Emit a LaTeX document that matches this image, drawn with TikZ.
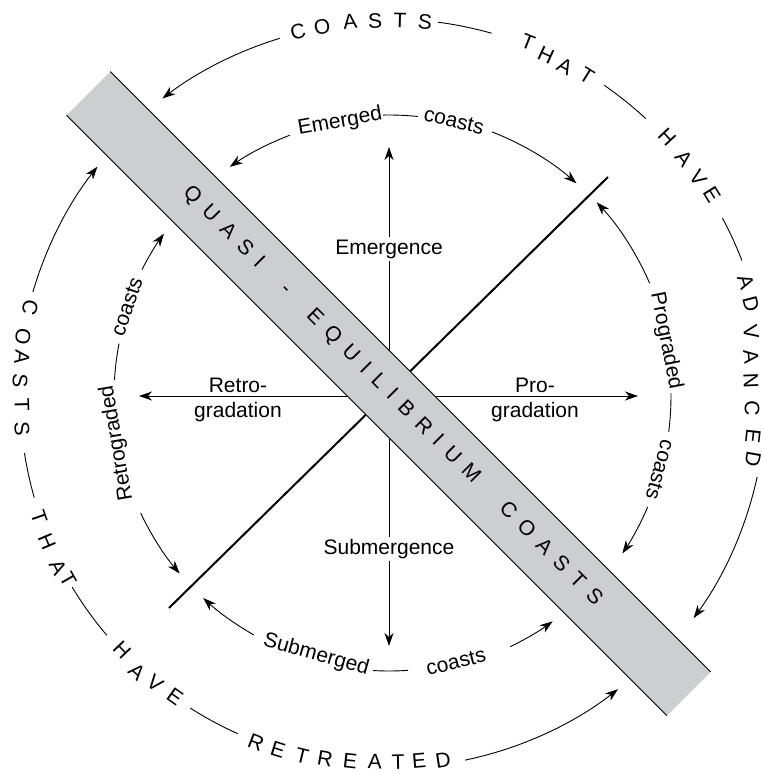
\documentclass[tikz,border=0pt]{standalone}
\usepackage{fontspec}
\setmainfont{Liberation Sans}
\usetikzlibrary{arrows.meta}
\definecolor{bandgray}{RGB}{205,206,208}
\newcommand\bandsp{\hspace{10pt}}
\begin{document}
\begin{tikzpicture}[x=1pt,y=1pt,font=\fontsize{21}{25}\selectfont,
  arr/.style={-{Stealth[length=13pt,width=9pt,inset=4pt]},line width=0.9pt},
  thinl/.style={line width=0.9pt},
  lab/.style={inner sep=2pt},
  txt/.style={inner sep=0pt}]
\useasboundingbox (-389,-378) rectangle (374,396);

% --- cross ---
\coordinate (O) at (0,0);
\coordinate (Ntip) at (0,249);
\coordinate (Stip) at (0,-250);
\coordinate (Wtip) at (-250,0);
\coordinate (Etip) at (249,0);
\coordinate (DL) at (-220,-212);
\coordinate (DU) at (219,219);
\node[lab,anchor=base] (emg) at (0,142) {Emergence};
\node[lab,anchor=base] (smg) at (0,-158) {Submergence};
\draw[arr] (emg.north) -- (Ntip);
\draw[thinl] (emg.south) -- (smg.north);
\draw[arr] (smg.south) -- (Stip);
\draw[arr] (O) -- (Wtip);
\draw[arr] (O) -- (Etip);
\draw[line width=2pt] (DL) -- (DU);
\node[txt,anchor=base] (retroA) at (-151,4) {Retro-};
\node[txt,anchor=base] (retroB) at (-151,-21) {gradation};
\node[txt,anchor=base] (proA) at (146,4) {Pro-};
\node[txt,anchor=base] (proB) at (146,-21) {gradation};

% --- band ---
\begin{scope}[shift={(0,2)},rotate=-45]
  \fill[bandgray] (-425,-31) rectangle (424,31);
  \draw[thinl] (-425,31) -- (424,31);
  \draw[thinl] (-425,-31) -- (424,-31);
  \node[txt,anchor=base west,rotate=-45] (bandtext) at (-288,-4.5)
   {Q\bandsp U\bandsp A\bandsp S\bandsp I\hspace{32pt}-\hspace{30pt}E\bandsp Q\bandsp U\bandsp I\bandsp L\bandsp I\bandsp B\bandsp R\bandsp I\bandsp U\bandsp M\hspace{36pt}C\bandsp O\bandsp A\bandsp S\bandsp T\bandsp S};
\end{scope}

% --- inner ring ---
\node[txt,rotate=10.1] (emA) at (-49,274) {Emerged};
\node[txt,rotate=-13.3] (emB) at (65,275) {coasts};
\draw[thinl] (91.2:281pt) arc[start angle=91.2,end angle=84.1,radius=281pt];
\draw[arr] (110.8:279pt) arc[start angle=110.8,end angle=124.8,radius=279pt];
\draw[arr] (68.7:283.5pt) arc[start angle=68.7,end angle=48.6,radius=283.5pt];

\node[txt,rotate=-78.8] (prA) at (277,55) {Prograded};
\node[txt,rotate=-105.3] (prB) at (271,-74) {coasts};
\draw[thinl] (0.6:282pt) arc[start angle=0.6,end angle=-7.3,radius=282pt];
\draw[arr] (-23.2:281.5pt) arc[start angle=-23.2,end angle=-34,radius=281.5pt];
\draw[arr] (23.4:284pt) arc[start angle=23.4,end angle=43,radius=284pt];

\node[txt,rotate=99.8] (reA) at (-272,-47) {Retrograded};
\node[txt,rotate=71.2] (reB) at (-262,89) {coasts};
\draw[thinl] (169:275pt) arc[start angle=169,end angle=176.7,radius=275pt];
\draw[arr] (152.9:277.5pt) arc[start angle=152.9,end angle=144.2,radius=277.5pt];
\draw[arr] (205.2:274.5pt) arc[start angle=205.2,end angle=220.3,radius=274.5pt];

\node[txt,rotate=-15.7] (suA) at (-73,-259) {Submerged};
\node[txt,rotate=14.1] (suB) at (67,-266) {coasts};
\draw[thinl] (266.7:275pt) arc[start angle=266.7,end angle=274,radius=275pt];
\draw[arr] (240.5:274.5pt) arc[start angle=240.5,end angle=227.4,radius=274.5pt];
\draw[arr] (295.8:278.5pt) arc[start angle=295.8,end angle=306,radius=278.5pt];

% --- outer ring: advanced ---
\foreach \x/\y/\l [count=\i] in {-91/364/C,-67/369/O,-39/374/A,-14/375/S,11/376/T,36/374/S,
  139/354/T,157/341/H,176/330/A,198/320/T,
  278/259/H,295/238/A,309/218/V,323/201/E,
  357/114/A,362/92/D,362/64/V,362/39/A,362/15/N,363/-12/C,364/-40/E,364/-63/D}{
  \pgfmathsetmacro\ang{atan2(\y,\x)-90}
  \node[txt,rotate=\ang] (adv\i) at (\x,\y) {\l};
}
\draw[arr] (107:374pt) arc[start angle=107,end angle=127.3,radius=374pt];
\draw[thinl] (82.5:377pt) arc[start angle=82.5,end angle=74.2,radius=377pt];
\draw[thinl] (55.3:378pt) arc[start angle=55.3,end angle=47.2,radius=378pt];
\draw[thinl] (28.1:378pt) arc[start angle=28.1,end angle=21,radius=378pt];
\draw[arr] (-12.4:377pt) arc[start angle=-12.4,end angle=-36.1,radius=377pt];

% --- outer ring: retreated ---
\foreach \x/\y/\l [count=\i] in {-359/88/C,-366/59/O,-367/39/A,-369/15/S,-367/-9/T,-367/-33/S,
  -350/-121/T,-342/-146/H,-331/-171/A,-321/-183/T,
  -267/-254/H,-252/-276/A,-234/-287/V,-214/-301/E,
  -133/-346/R,-111/-354/E,-87/-360/T,-64/-363/R,-39/-365/E,-14/-366/A,9/-366/T,30/-365/E,54/-364/D}{
  \pgfmathsetmacro\ang{atan2(\y,\x)+90}
  \node[txt,rotate=\ang] (ret\i) at (\x,\y) {\l};
}
\draw[arr] (163.7:371pt) arc[start angle=163.7,end angle=141.8,radius=371pt];
\draw[thinl] (188.9:369pt) arc[start angle=188.9,end angle=196,radius=369pt];
\draw[thinl] (211.1:370pt) arc[start angle=211.1,end angle=220.3,radius=370pt];
\draw[thinl] (237.5:370pt) arc[start angle=237.5,end angle=245.9,radius=370pt];
\draw[arr] (281.8:372pt) arc[start angle=281.8,end angle=308,radius=372pt];
\end{tikzpicture}
\end{document}
